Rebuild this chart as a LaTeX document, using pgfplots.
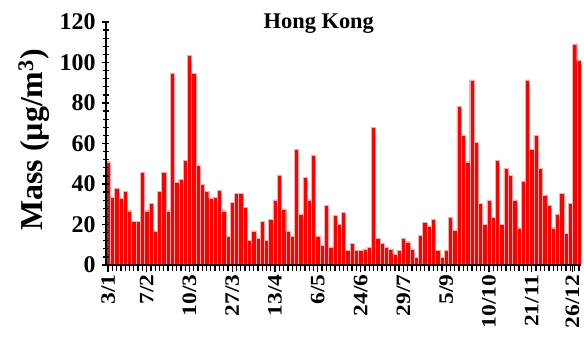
\documentclass[border=0pt]{standalone}
\usepackage{pgfplots}
\pgfplotsset{compat=1.18}
\usepackage{fontspec}
\setmainfont{Liberation Serif}
\newfontfamily\tickfont[FakeStretch=1.15]{Liberation Serif}
\begin{document}
\begin{tikzpicture}
\begin{axis}[
  scale only axis, width=475bp, height=243bp,
  xmin=-0.5, xmax=110.5, ymin=0, ymax=120,
  axis x line*=bottom, axis y line*=left,
  axis line style={line width=2.4bp, black},
  axis on top,
  ybar, bar width=1,
  ytick={0,20,...,120}, minor y tick num=4,
  xtick={0,9,19,29,39,49,59,69,79,89,99,108.5},
  xticklabels={3/1,7/2,10/3,27/3,13/4,6/5,24/6,29/7,5/9,10/10,21/11,26/12},
  minor xtick={0,...,110},
  tick align=outside,
  major tick length=7bp, minor tick length=6bp,
  tick style={line width=1.3bp, black},
  y tick style={xshift=3bp},
  /pgf/number format/assume math mode=true,
  ticklabel style={font=\fontsize{24}{24}\selectfont\bfseries},
  x tick label style={rotate=90, anchor=east, font=\fontsize{20.5}{20.5}\selectfont\tickfont\bfseries, inner sep=2.5bp},
  ylabel={Mass (µg/m\textsuperscript{3})},
  ylabel style={font=\fontsize{32}{32}\selectfont\bfseries, at={(axis description cs:-0.152,0.515)}, anchor=center, rotate=0},
  title={Hong Kong},
  title style={font=\fontsize{22.5}{22.5}\selectfont\bfseries, at={(0.448,1)}, anchor=north, yshift=6bp},
]
\addplot[fill=red, draw=red!35!white, line width=0.4bp] coordinates {
(0,51) (1,33.7) (2,37.9) (3,33) (4,36.2) (5,26.8) (6,21.7) (7,21.7) (8,45.8) (9,26.8)
(10,30.5) (11,16.8) (12,36.2) (13,45.8) (14,26.8) (15,94.6) (16,40.7) (17,42.3) (18,51.8) (19,103.4)
(20,94.6) (21,49.4) (22,39.8) (23,36.2) (24,33) (25,33.7) (26,37) (27,26.8) (28,14) (29,31)
(30,35.4) (31,35.4) (32,28.5) (33,12.3) (34,16.8) (35,13) (36,21.7) (37,12.3) (38,22.6) (39,32.1)
(40,44.5) (41,27.7) (42,16.8) (43,14) (44,57.1) (45,25.2) (46,43.3) (47,32.1) (48,54.3) (49,14)
(50,9.7) (51,29.6) (52,8.9) (53,24.4) (54,20.1) (55,26) (56,7.4) (57,10.7) (58,7.4) (59,7.4)
(60,8) (61,8.9) (62,68.1) (63,13.2) (64,10.7) (65,8.9) (66,8) (67,5.4) (68,7.4) (69,13.2)
(70,11.5) (71,8) (72,3.8) (73,14.8) (74,20.9) (75,19.3) (76,22.6) (77,7.4) (78,3.8) (79,7.4)
(80,23.5) (81,17.4) (82,78.5) (83,64) (84,51) (85,91.4) (86,60.6) (87,30.5) (88,20.1) (89,32.1)
(90,23.5) (91,51.8) (92,20.1) (93,47.6) (94,44.3) (95,32.1) (96,18.4) (97,41.5) (98,91.4) (99,57.1)
(100,64) (101,47.6) (102,34.6) (103,29.6) (104,18.4) (105,25.2) (106,35.4) (107,15.6) (108,30.5) (109,109.2)
(110,100.9)
};
\coordinate (sw) at (rel axis cs:0,0);
\coordinate (ne) at (rel axis cs:1,1);
\end{axis}
\pgfresetboundingbox
\path[use as bounding box] ([shift={(-106bp,-73bp)}]sw) rectangle ([shift={(3bp,22bp)}]ne);
\end{tikzpicture}
\end{document}
